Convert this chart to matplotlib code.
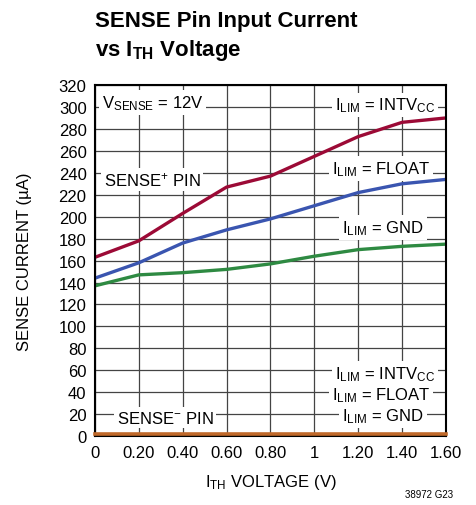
import matplotlib
matplotlib.use("Agg")
import matplotlib.pyplot as plt
import numpy as np

FONT = ["Liberation Sans Narrow", "Liberation Sans", "DejaVu Sans"]
plt.rcParams["font.family"] = FONT
plt.rcParams["mathtext.fontset"] = "custom"
plt.rcParams["mathtext.rm"] = "Liberation Sans"
plt.rcParams["mathtext.it"] = "Liberation Sans"
plt.rcParams["mathtext.bf"] = "Liberation Sans:bold"

# Data
ith_voltage = [0, 0.2, 0.4, 0.6, 0.8, 1.0, 1.2, 1.4, 1.6]
sense_plus_intvcc = [163, 178, 203, 227, 237, 255, 273, 286, 290]
sense_plus_float = [144, 158, 176, 188, 198, 210, 222, 230, 234]
sense_plus_gnd = [137, 147, 149, 152, 157, 164, 170, 173, 175]
sense_minus = [2, 2, 2, 2, 2, 2, 2, 2, 2]

x_ticks = [0, 0.2, 0.4, 0.6, 0.8, 1.0, 1.2, 1.4, 1.6]
x_ticklabels = ["0", "0.20", "0.40", "0.60", "0.80", "1", "1.20", "1.40", "1.60"]
y_ticks = list(range(0, 321, 20))

fig = plt.figure(figsize=(4.77, 5.06), dpi=100)
ax = fig.add_axes([0.199, 0.136, 0.736, 0.694])

ax.plot(ith_voltage, sense_plus_intvcc, color="#9c0a36", lw=2.4, zorder=4)
ax.plot(ith_voltage, sense_plus_float, color="#3a55b0", lw=2.4, zorder=4)
ax.plot(ith_voltage, sense_plus_gnd, color="#2e8a42", lw=2.4, zorder=4)
ax.plot(ith_voltage, sense_minus, color="#c0692a", lw=2.6, zorder=6, clip_on=False)

ax.set_xlim(0, 1.6)
ax.set_ylim(0, 320)
ax.set_xticks(x_ticks)
ax.set_xticklabels(x_ticklabels)
ax.set_yticks(y_ticks)
ax.tick_params(length=0, labelsize=12, pad=6)
ax.grid(True, color="#444444", lw=0.9)
ax.set_axisbelow(True)
for s in ax.spines.values():
    s.set_linewidth(1.5)
    s.set_zorder(5)

ax.set_xlabel(r"I$_{\mathrm{TH}}$ VOLTAGE (V)", fontsize=12, labelpad=9)
ax.set_ylabel("SENSE CURRENT (µA)", fontsize=12, labelpad=19)

box = dict(facecolor="white", edgecolor="none", pad=2)
def label(x, y, s, ha="left"):
    # white box behind the text to break the grid, text drawn on top
    ax.text(x, y, s, fontsize=12, ha=ha, va="center", color="white", bbox=box, zorder=2.5)
    ax.text(x, y, s, fontsize=12, ha=ha, va="center", zorder=3)

label(0.03, 304, r"V$_{\mathrm{SENSE}}$ = 12V")
label(0.04, 234, r"SENSE$^{+}$ PIN")
label(1.55, 302, r"I$_{\mathrm{LIM}}$ = INTV$_{\mathrm{CC}}$", ha="right")
label(1.53, 244, r"I$_{\mathrm{LIM}}$ = FLOAT", ha="right")
label(1.50, 190, r"I$_{\mathrm{LIM}}$ = GND", ha="right")
label(1.55, 57, r"I$_{\mathrm{LIM}}$ = INTV$_{\mathrm{CC}}$", ha="right")
label(1.53, 38, r"I$_{\mathrm{LIM}}$ = FLOAT", ha="right")
label(1.50, 19, r"I$_{\mathrm{LIM}}$ = GND", ha="right")
label(0.10, 17, r"SENSE$^{-}$ PIN")

fig.text(0.199, 0.958, "SENSE Pin Input Current", fontsize=16, fontweight="bold", va="center")
fig.text(0.199, 0.9, r"vs I$_{\mathbf{TH}}$ Voltage", fontsize=16, fontweight="bold", va="center")
fig.text(0.95, 0.022, "38972 G23", fontsize=7, ha="right", va="center")

fig.savefig("out.png", dpi=100)
